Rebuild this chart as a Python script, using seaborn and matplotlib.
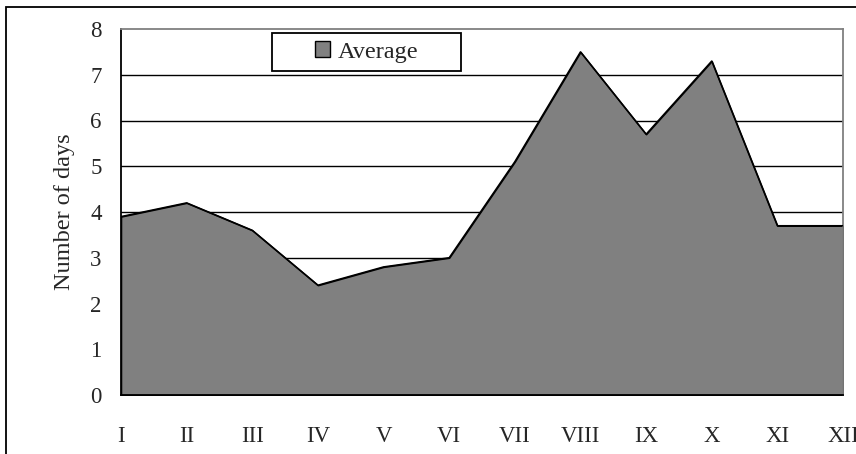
import matplotlib
matplotlib.use("Agg")
import matplotlib.pyplot as plt
from matplotlib.patches import Rectangle, Patch
import seaborn as sns
import pandas as pd

months = ["I", "II", "III", "IV", "V", "VI", "VII", "VIII", "IX", "X", "XI", "XII"]
average_days = [3.9, 4.2, 3.6, 2.4, 2.8, 3.0, 5.1, 7.5, 5.7, 7.3, 3.7, 3.7]
y_ticks = [0, 1, 2, 3, 4, 5, 6, 7, 8]

df = pd.DataFrame({"pos": range(len(months)), "month": months, "days": average_days})

sns.set_theme(style="white")
plt.rcParams["font.family"] = ["Liberation Serif", "DejaVu Serif"]

W, H = 856, 454
fig = plt.figure(figsize=(W / 100, H / 100), dpi=100)
ax = fig.add_axes([121 / W, 1 - 395 / H, (843 - 121) / W, (395 - 29) / H])

# horizontal grid lines
for t in y_ticks[1:-1]:
    ax.axhline(t, color="black", lw=1.0, zorder=1)

# filled area with black outline
ax.fill_between(df["pos"], 0, df["days"], facecolor="#808080", edgecolor="black",
                lw=1.1, zorder=2)
sns.lineplot(data=df, x="pos", y="days", color="black", lw=1.1, ax=ax, zorder=3)

ax.set_xlim(0, len(months) - 1)
ax.set_ylim(0, 8)
ax.set_xticks(df["pos"])
ax.set_xticklabels(months)
ax.set_yticks(y_ticks)
ax.set_xlabel("")
ax.set_ylabel("Number of days", fontsize=17.5, labelpad=11)

ax.tick_params(axis="x", direction="out", length=6, width=1.0, color="black",
               labelsize=16.5, pad=16)
ax.tick_params(axis="y", direction="out", length=6, width=1.0, color="black",
               labelsize=16.5, pad=8)

for side in ["left", "bottom"]:
    ax.spines[side].set_color("black")
    ax.spines[side].set_linewidth(1.3)
for side in ["top", "right"]:
    ax.spines[side].set_color("#808080")
    ax.spines[side].set_linewidth(1.3)
ax.spines["bottom"].set_zorder(4)

# legend frame and entry
x0, x1 = (272 - 121) / 722, (461 - 121) / 722
y0, y1 = (395 - 71) / 366, (395 - 33) / 366
ax.add_patch(Rectangle((x0, y0), x1 - x0, y1 - y0, transform=ax.transAxes,
                       facecolor="white", edgecolor="black", lw=1.3, zorder=5))
handle = Patch(facecolor="#808080", edgecolor="black", lw=1.0)
leg = ax.legend([handle], ["Average"], loc="center",
                bbox_to_anchor=((x0 + x1) / 2, (y0 + y1) / 2),
                frameon=False, fontsize=17.5, handlelength=0.65, handleheight=0.65,
                handletextpad=0.3, borderaxespad=0)
leg.set_zorder(6)

# outer chart border
fig.patches.append(Rectangle((6 / W, -0.1), 1.2, 1 - 7 / H + 0.1,
                             transform=fig.transFigure, facecolor="none",
                             edgecolor="black", lw=1.3))

fig.savefig("out.png", dpi=100)
